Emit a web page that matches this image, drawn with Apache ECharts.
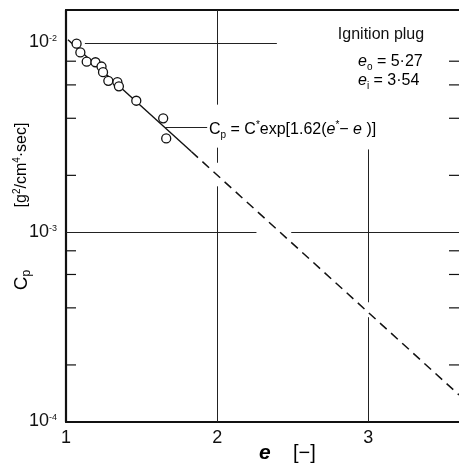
<!DOCTYPE html>
<html>
<head>
<meta charset="utf-8">
<script src="https://cdn.jsdelivr.net/npm/echarts@6/dist/echarts.min.js"></script>
<style>
html, body { margin: 0; padding: 0; background: #fff; }
#chart { width: 459px; height: 465px; }
</style>
</head>
<body>
<div id="chart"></div>
<script>
// measured points (e, Cp)
var eData  = [1.07, 1.095, 1.137, 1.195, 1.235, 1.245, 1.28, 1.34, 1.35, 1.465, 1.643, 1.663];
var cpData = [9.9e-3, 8.9e-3, 7.95e-3, 7.9e-3, 7.5e-3, 7.0e-3, 6.3e-3, 6.2e-3, 5.9e-3, 4.95e-3, 4.0e-3, 3.13e-3];

// fitted line, solid part and dashed extrapolation (end points)
var fitSolid  = [[1.013, 1.037e-2], [1.829, 2.67e-3]];
var fitDashed = [[1.829, 2.67e-3], [3.6, 1.39e-4]];

// axes
var xMin = 1, xMax = 3.6, xStep = 1;
var yMin = 1e-4, yMax = 1.49e-2;
var yMinorTicks = [2e-4, 4e-4, 6e-4, 8e-4, 2e-3, 4e-3, 6e-3, 8e-3];

// grid lines are broken in the original where they meet text / the curve
var gridSegs = [
  [[2, yMax], [2, 4.72e-3]],
  [[2, 2.80e-3], [2, 2.33e-3]],
  [[2, 1.75e-3], [2, yMin]],
  [[3, 2.74e-3], [3, 4.28e-4]],
  [[3, 3.57e-4], [3, yMin]],
  [[1.125, 1e-2], [2.395, 1e-2]],
  [[xMin, 1e-3], [2.26, 1e-3]],
  [[2.49, 1e-3], [xMax, 1e-3]],
  // leader from the curve to the formula
  [[1.651, 3.57e-3], [1.934, 3.57e-3]]
];

var FONT = 'Liberation Sans';
var INK = '#111';

var points = eData.map(function (e, i) { return [e, cpData[i]]; });

function tickSeries(xAt, dir) {
  return {
    type: 'custom',
    silent: true,
    data: yMinorTicks.map(function (v) { return [xAt, v]; }),
    renderItem: function (params, api) {
      var p = api.coord([api.value(0), api.value(1)]);
      return {
        type: 'line',
        shape: { x1: p[0], y1: p[1], x2: p[0] + dir * 10, y2: p[1] },
        style: { stroke: INK, lineWidth: 1.2 }
      };
    }
  };
}

var annRich = {
  t:   { fontFamily: FONT, fontSize: 16, color: INK, lineHeight: 20, verticalAlign: 'middle' },
  e:   { fontFamily: FONT, fontSize: 16, color: INK, fontStyle: 'italic', lineHeight: 20, verticalAlign: 'middle' },
  sub: { fontFamily: FONT, fontSize: 10, color: INK, lineHeight: 10, verticalAlign: 'bottom' },
  sup: { fontFamily: FONT, fontSize: 10, color: INK, lineHeight: 10, verticalAlign: 'top' }
};

var frame = { show: true, lineStyle: { color: INK, width: 2 } };

var myChart = echarts.init(document.getElementById('chart'));
var option = {
  animation: false,
  backgroundColor: '#fff',
  grid: { left: 66, top: 10, width: 395, height: 412 },
  xAxis: [{
    type: 'value',
    min: xMin, max: xMax, interval: xStep,
    axisLine: frame,
    axisTick: { show: false },
    splitLine: { show: false },
    axisLabel: {
      showMaxLabel: false,
      margin: 7,
      fontFamily: FONT, fontSize: 18, color: INK
    }
  }, {
    type: 'value',
    position: 'top',
    min: xMin, max: xMax, interval: xStep,
    axisLine: frame,
    axisTick: { show: false },
    splitLine: { show: false },
    axisLabel: { show: false }
  }],
  yAxis: {
    type: 'log',
    logBase: 10,
    min: yMin, max: yMax,
    axisLine: { show: true, lineStyle: { color: INK, width: 2.2 } },
    axisTick: { show: false },
    splitLine: { show: false },
    minorTick: { show: false },
    axisLabel: {
      showMaxLabel: false,
      margin: 9,
      formatter: function (v) {
        return '{b|10}{s|' + Math.round(Math.log10(v)) + '}';
      },
      rich: {
        b: { fontFamily: FONT, fontSize: 18, color: INK, lineHeight: 17, verticalAlign: 'bottom' },
        s: { fontFamily: FONT, fontSize: 9, color: INK, lineHeight: 9, padding: [0, 0, 14, 0], verticalAlign: 'top' }
      }
    }
  },
  graphic: [
    {
      type: 'text', x: 22, y: 280, rotation: Math.PI / 2,
      style: {
        text: '{c|C}{p|p}',
        align: 'center', verticalAlign: 'middle',
        textAlign: 'center', textVerticalAlign: 'middle',
        rich: {
          c: { fontFamily: FONT, fontSize: 19, color: INK, lineHeight: 22, verticalAlign: 'middle' },
          p: { fontFamily: FONT, fontSize: 12, color: INK, lineHeight: 12, verticalAlign: 'bottom' }
        }
      }
    },
    {
      type: 'text', x: 22, y: 165, rotation: Math.PI / 2,
      style: {
        text: '{t|[g}{sup|2}{t|/cm}{sup|4}{t|·sec]}',
        align: 'center', verticalAlign: 'middle',
        textAlign: 'center', textVerticalAlign: 'middle',
        rich: annRich
      }
    },
    {
      type: 'text', x: 259, y: 453,
      style: {
        text: '{e|e}{t|    [−]}',
        align: 'left', verticalAlign: 'middle',
        textAlign: 'left', textVerticalAlign: 'middle',
        rich: {
          e: { fontFamily: FONT, fontSize: 21, fontStyle: 'italic', fontWeight: 'bold', color: INK },
          t: { fontFamily: FONT, fontSize: 20, color: INK }
        }
      }
    },
    {
      type: 'text', x: 381, y: 35,
      style: {
        text: 'Ignition plug',
        fontFamily: FONT, fontSize: 16, fill: INK,
        align: 'center', verticalAlign: 'middle',
        textAlign: 'center', textVerticalAlign: 'middle'
      }
    },
    {
      type: 'text', x: 358, y: 62,
      style: {
        text: '{e|e}{sub|o}{t| = 5·27}',
        align: 'left', verticalAlign: 'middle',
        textAlign: 'left', textVerticalAlign: 'middle',
        rich: annRich
      }
    },
    {
      type: 'text', x: 358, y: 81,
      style: {
        text: '{e|e}{sub|i}{t| = 3·54}',
        align: 'left', verticalAlign: 'middle',
        textAlign: 'left', textVerticalAlign: 'middle',
        rich: annRich
      }
    },
    {
      type: 'text', x: 209, y: 130,
      style: {
        text: '{t|C}{sub|p}{t| = C}{sup|*}{t|exp[1.62(}{e|e}{sup|*}{t|− }{e|e}{t| )]}',
        align: 'left', verticalAlign: 'middle',
        textAlign: 'left', textVerticalAlign: 'middle',
        rich: annRich
      }
    }
  ],
  series: [
    {
      name: 'grid',
      type: 'line',
      data: [],
      silent: true,
      markLine: {
        silent: true,
        symbol: ['none', 'none'],
        label: { show: false },
        lineStyle: { color: '#222', width: 1, type: 'solid' },
        data: gridSegs.map(function (s) {
          return [{ coord: s[0] }, { coord: s[1] }];
        })
      }
    },
    tickSeries(xMin, 1),
    tickSeries(xMax, -1),
    {
      name: 'fit',
      type: 'line',
      data: fitSolid,
      showSymbol: false,
      lineStyle: { color: INK, width: 1.4 }
    },
    {
      name: 'fit extrapolated',
      type: 'line',
      data: fitDashed,
      showSymbol: false,
      lineStyle: { color: INK, width: 1.5, type: [9, 6] }
    },
    {
      name: 'measured',
      type: 'scatter',
      data: points,
      symbol: 'circle',
      symbolSize: 9,
      itemStyle: { color: '#fff', borderColor: INK, borderWidth: 1.3, opacity: 1 },
      z: 5
    }
  ]
};
myChart.setOption(option);
</script>
</body>
</html>
